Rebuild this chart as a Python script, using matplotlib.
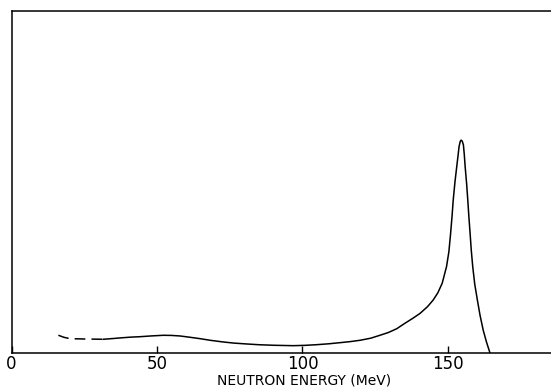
import matplotlib
matplotlib.use("Agg")
import matplotlib.pyplot as plt

# neutron energy spectrum (relative yield, arbitrary units)
energy_dash = [16.1, 18.0, 20.1, 25.3, 29.4, 31.5]
yield_dash = [5.1, 4.5, 4.1, 4.0, 3.95, 3.92]

energy = [31.5, 35.0, 38.4, 41.0, 44.2, 48.0, 52.2, 55.0, 57.9, 61.0,
          64.8, 68.5, 72.8, 76.5, 80.8, 85.0, 90.0, 96.8, 101.0, 104.9,
          109.0, 112.9, 116.5, 119.8, 123.5, 126.6, 129.5, 132.4, 135.0,
          137.8, 140.4, 143.0, 144.9, 146.5, 148.0, 149.5, 150.3, 150.9,
          151.4, 151.8, 152.4, 153.0, 153.5, 153.8, 154.2, 154.5, 154.9,
          155.3, 155.6, 155.9, 156.4, 156.8, 157.2, 157.6, 158.0, 158.5,
          159.2, 160.1, 161.0, 162.1, 163.2, 164.4]
yields = [3.92, 4.15, 4.39, 4.55, 4.68, 4.90, 5.09, 5.05, 4.89, 4.55,
          4.10, 3.60, 3.13, 2.80, 2.55, 2.33, 2.17, 2.05, 2.15, 2.34,
          2.60, 2.93, 3.25, 3.63, 4.25, 5.09, 5.90, 7.02, 8.5,
          10.0, 11.5, 13.5, 15.4, 17.5, 20.3, 25.2, 29.5, 34.9,
          40.0, 44.7, 50.0, 54.4, 58.0, 60.3, 61.8, 62.2, 61.9,
          60.8, 58.0, 54.4, 49.5, 44.7, 39.5, 34.9, 30.0, 25.2,
          20.0, 15.4, 11.0, 6.6, 3.2, 0.0]

xticks = [0, 50, 100, 150]

fig = plt.figure(figsize=(5.51, 3.91), dpi=100)
ax = fig.add_axes([0.0209, 0.098, 0.9791, 0.874])

ax.plot(energy_dash, yield_dash, color="black", lw=1.1, ls=(0, (7, 4)))
ax.plot(energy, yields, color="black", lw=1.1)

ax.set_xlim(0, 185.4)
ax.set_ylim(0, 100)
ax.set_xticks(xticks)
ax.set_xticklabels([str(t) for t in xticks], fontsize=12)
ax.set_yticks([])
ax.tick_params(axis="x", direction="in", length=5, width=1, pad=1.5)
ax.spines["right"].set_visible(False)
for s in ("left", "top", "bottom"):
    ax.spines[s].set_linewidth(1.1)

fig.text(304 / 551, 1 - 381 / 391, "NEUTRON ENERGY (MeV)", fontsize=10,
         ha="center", va="center")

fig.savefig("out.png", dpi=100)
